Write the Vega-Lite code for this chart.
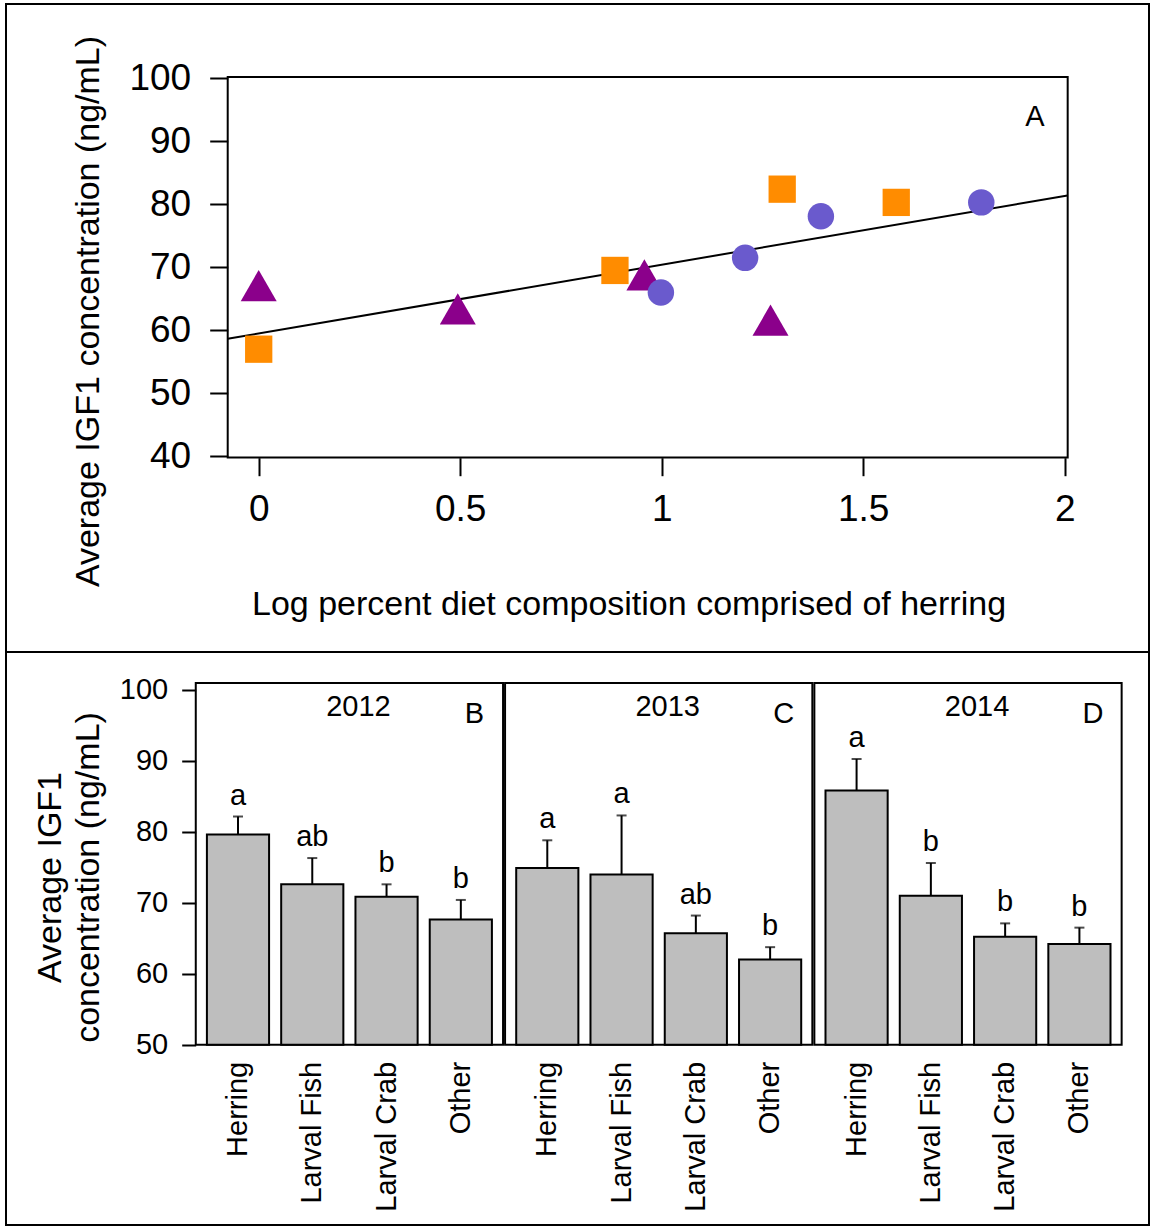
{
  "$schema": "https://vega.github.io/schema/vega-lite/v6.json",
  "padding": {"left": 5, "top": 3, "right": 3, "bottom": 2},
  "spacing": 0,
  "bounds": "flush",
  "config": {
    "font": "Liberation Sans",
    "view": {"stroke": "black", "strokeWidth": 2},
    "axis": {"labelColor": "black", "tickColor": "black", "titleColor": "black", "titleFontWeight": "normal", "grid": false, "domain": false, "tickWidth": 2, "labelFont": "Liberation Sans", "titleFont": "Liberation Sans"},
    "text": {"font": "Liberation Sans", "color": "black"}
  },
  "datasets": {
    "points": [
      {"herring": 0, "igf1": 67.1, "year": "2014"},
      {"herring": 0, "igf1": 57.0, "year": "2012"},
      {"herring": 0.494, "igf1": 63.4, "year": "2014"},
      {"herring": 0.884, "igf1": 69.5, "year": "2012"},
      {"herring": 0.957, "igf1": 68.8, "year": "2014"},
      {"herring": 0.998, "igf1": 66.0, "year": "2013"},
      {"herring": 1.207, "igf1": 71.5, "year": "2013"},
      {"herring": 1.27, "igf1": 61.6, "year": "2014"},
      {"herring": 1.299, "igf1": 82.4, "year": "2012"},
      {"herring": 1.395, "igf1": 78.1, "year": "2013"},
      {"herring": 1.582, "igf1": 80.3, "year": "2012"},
      {"herring": 1.793, "igf1": 80.3, "year": "2013"}
    ],
    "fit": [
      {"herring": -0.077, "igf1": 58.65},
      {"herring": 2.007, "igf1": 81.4}
    ],
    "bars": [
      {"year": "2012", "panel": "B", "diet": "Herring", "mean": 79.6, "upper": 82.15, "sig": "a"},
      {"year": "2012", "panel": "B", "diet": "Larval Fish", "mean": 72.6, "upper": 76.3, "sig": "ab"},
      {"year": "2012", "panel": "B", "diet": "Larval Crab", "mean": 70.85, "upper": 72.6, "sig": "b"},
      {"year": "2012", "panel": "B", "diet": "Other", "mean": 67.65, "upper": 70.4, "sig": "b"},
      {"year": "2013", "panel": "C", "diet": "Herring", "mean": 74.9, "upper": 78.8, "sig": "a"},
      {"year": "2013", "panel": "C", "diet": "Larval Fish", "mean": 74.0, "upper": 82.3, "sig": "a"},
      {"year": "2013", "panel": "C", "diet": "Larval Crab", "mean": 65.7, "upper": 68.2, "sig": "ab"},
      {"year": "2013", "panel": "C", "diet": "Other", "mean": 62.0, "upper": 63.75, "sig": "b"},
      {"year": "2014", "panel": "D", "diet": "Herring", "mean": 85.8, "upper": 90.25, "sig": "a"},
      {"year": "2014", "panel": "D", "diet": "Larval Fish", "mean": 71.0, "upper": 75.6, "sig": "b"},
      {"year": "2014", "panel": "D", "diet": "Larval Crab", "mean": 65.2, "upper": 67.1, "sig": "b"},
      {"year": "2014", "panel": "D", "diet": "Other", "mean": 64.2, "upper": 66.5, "sig": "b"}
    ]
  },
  "vconcat": [
    {
      "width": 1143,
      "height": 648,
      "layer": [
        {
          "data": {"values": [{}]},
          "mark": {"type": "rect", "fillOpacity": 0, "stroke": "black", "strokeWidth": 2},
          "encoding": {
            "x": {"datum": -0.0769, "type": "quantitative", "scale": {"domain": [-0.62705, 2.20918], "nice": false, "zero": false},
              "axis": {"orient": "bottom", "offset": -194.3, "values": [0, 0.5, 1, 1.5, 2], "format": "~g", "tickSize": 18, "labelPadding": 16, "labelFontSize": 37, "title": "Log percent diet composition comprised of herring", "titleFontSize": 34, "titleX": 622.5, "titleY": 157, "titleAlign": "center", "titleBaseline": "alphabetic", "titleAngle": 0}},
            "x2": {"datum": 2.0074},
            "y": {"datum": 39.8, "type": "quantitative", "scale": {"domain": [8.937, 111.79], "nice": false, "zero": false},
              "axis": {"orient": "left", "offset": -221.7, "values": [40, 50, 60, 70, 80, 90, 100], "format": "d", "tickSize": 18, "labelPadding": 19, "labelFontSize": 37, "title": "Average IGF1 concentration (ng/mL)", "titleFontSize": 34, "titleX": -129, "titleY": 307, "titleAlign": "center", "titleBaseline": "alphabetic", "titleAngle": -90}},
            "y2": {"datum": 100.2}
          }
        },
        {
          "data": {"name": "fit"},
          "mark": {"type": "line", "color": "black", "strokeWidth": 2},
          "encoding": {
            "x": {"field": "herring", "type": "quantitative", "scale": {"domain": [-0.62705, 2.20918], "nice": false, "zero": false},
              "axis": {"orient": "bottom", "offset": -194.3, "values": [0, 0.5, 1, 1.5, 2], "format": "~g", "tickSize": 18, "labelPadding": 16, "labelFontSize": 37, "title": "Log percent diet composition comprised of herring", "titleFontSize": 34, "titleX": 622.5, "titleY": 157, "titleAlign": "center", "titleBaseline": "alphabetic", "titleAngle": 0}},
            "y": {"field": "igf1", "type": "quantitative", "scale": {"domain": [8.937, 111.79], "nice": false, "zero": false},
              "axis": {"orient": "left", "offset": -221.7, "values": [40, 50, 60, 70, 80, 90, 100], "format": "d", "tickSize": 18, "labelPadding": 19, "labelFontSize": 37, "title": "Average IGF1 concentration (ng/mL)", "titleFontSize": 34, "titleX": -129, "titleY": 307, "titleAlign": "center", "titleBaseline": "alphabetic", "titleAngle": -90}}
          }
        },
        {
          "data": {"name": "points"},
          "mark": {"type": "point", "filled": true, "opacity": 1, "strokeWidth": 0},
          "encoding": {
            "x": {"field": "herring", "type": "quantitative", "scale": {"domain": [-0.62705, 2.20918], "nice": false, "zero": false},
              "axis": {"orient": "bottom", "offset": -194.3, "values": [0, 0.5, 1, 1.5, 2], "format": "~g", "tickSize": 18, "labelPadding": 16, "labelFontSize": 37, "title": "Log percent diet composition comprised of herring", "titleFontSize": 34, "titleX": 622.5, "titleY": 157, "titleAlign": "center", "titleBaseline": "alphabetic", "titleAngle": 0}},
            "y": {"field": "igf1", "type": "quantitative", "scale": {"domain": [8.937, 111.79], "nice": false, "zero": false},
              "axis": {"orient": "left", "offset": -221.7, "values": [40, 50, 60, 70, 80, 90, 100], "format": "d", "tickSize": 18, "labelPadding": 19, "labelFontSize": 37, "title": "Average IGF1 concentration (ng/mL)", "titleFontSize": 34, "titleX": -129, "titleY": 307, "titleAlign": "center", "titleBaseline": "alphabetic", "titleAngle": -90}},
            "shape": {"field": "year", "type": "nominal", "scale": {"domain": ["2012", "2013", "2014"], "range": ["square", "circle", "triangle-up"]}, "legend": null},
            "color": {"field": "year", "type": "nominal", "scale": {"domain": ["2012", "2013", "2014"], "range": ["#FF8C00", "#6A5ACD", "#8B008B"]}, "legend": null},
            "size": {"field": "year", "type": "nominal", "scale": {"type": "ordinal", "domain": ["2012", "2013", "2014"], "range": [745, 700, 1296]}, "legend": null}
          }
        },
        {
          "data": {"values": [{"label": "A"}]},
          "mark": {"type": "text", "fontSize": 29, "align": "center", "baseline": "alphabetic"},
          "encoding": {
            "x": {"datum": 1.926, "type": "quantitative", "scale": {"domain": [-0.62705, 2.20918], "nice": false, "zero": false},
              "axis": {"orient": "bottom", "offset": -194.3, "values": [0, 0.5, 1, 1.5, 2], "format": "~g", "tickSize": 18, "labelPadding": 16, "labelFontSize": 37, "title": "Log percent diet composition comprised of herring", "titleFontSize": 34, "titleX": 622.5, "titleY": 157, "titleAlign": "center", "titleBaseline": "alphabetic", "titleAngle": 0}},
            "y": {"datum": 92.4, "type": "quantitative", "scale": {"domain": [8.937, 111.79], "nice": false, "zero": false},
              "axis": {"orient": "left", "offset": -221.7, "values": [40, 50, 60, 70, 80, 90, 100], "format": "d", "tickSize": 18, "labelPadding": 19, "labelFontSize": 37, "title": "Average IGF1 concentration (ng/mL)", "titleFontSize": 34, "titleX": -129, "titleY": 307, "titleAlign": "center", "titleBaseline": "alphabetic", "titleAngle": -90}},
            "text": {"field": "label"}
          }
        }
      ]
    },
    {
      "width": 1143,
      "height": 573,
      "data": {"name": "bars"},
      "layer": [
        {
          "transform": [{"aggregate": [{"op": "count", "as": "n"}], "groupby": ["year"]}],
          "mark": {"type": "bar", "fillOpacity": 0, "stroke": "black", "strokeWidth": 2},
          "encoding": {
            "x": {"field": "year", "type": "nominal", "scale": {"type": "band", "domain": ["2012", "2013", "2014"], "paddingInner": 0.0065, "paddingOuter": 0.351, "align": 0.874, "round": false}, "axis": null},
            "y": {"datum": 100.96, "type": "quantitative", "scale": {"domain": [24.62, 105.32], "nice": false, "zero": false},
              "axis": {"orient": "left", "offset": -189.7, "values": [50, 60, 70, 80, 90, 100], "format": "d", "tickSize": 14, "labelPadding": 14, "labelFontSize": 29, "title": ["Average IGF1", "concentration (ng/mL)"], "titleFontSize": 34, "titleLineHeight": 38, "titleX": -135, "titleY": 225, "titleAlign": "center", "titleBaseline": "alphabetic", "titleAngle": -90}},
            "y2": {"datum": 50}
          }
        },
        {
          "mark": {"type": "bar", "fill": "#BEBEBE", "stroke": "black", "strokeWidth": 2},
          "encoding": {
            "x": {"field": "year", "type": "nominal", "scale": {"type": "band", "domain": ["2012", "2013", "2014"], "paddingInner": 0.0065, "paddingOuter": 0.351, "align": 0.874, "round": false}, "axis": null},
            "xOffset": {"field": "diet", "type": "nominal", "scale": {"domain": ["Herring", "Larval Fish", "Larval Crab", "Other"], "paddingInner": 0.163, "paddingOuter": 0.15}},
            "y": {"field": "mean", "type": "quantitative", "scale": {"domain": [24.62, 105.32], "nice": false, "zero": false},
              "axis": {"orient": "left", "offset": -189.7, "values": [50, 60, 70, 80, 90, 100], "format": "d", "tickSize": 14, "labelPadding": 14, "labelFontSize": 29, "title": ["Average IGF1", "concentration (ng/mL)"], "titleFontSize": 34, "titleLineHeight": 38, "titleX": -135, "titleY": 225, "titleAlign": "center", "titleBaseline": "alphabetic", "titleAngle": -90}},
            "y2": {"datum": 50}
          }
        },
        {
          "mark": {"type": "rule", "strokeWidth": 2, "color": "black"},
          "encoding": {
            "x": {"field": "year", "type": "nominal", "scale": {"type": "band", "domain": ["2012", "2013", "2014"], "paddingInner": 0.0065, "paddingOuter": 0.351, "align": 0.874, "round": false}, "axis": null},
            "xOffset": {"field": "diet", "type": "nominal", "scale": {"domain": ["Herring", "Larval Fish", "Larval Crab", "Other"], "paddingInner": 0.163, "paddingOuter": 0.15}},
            "y": {"field": "mean", "type": "quantitative", "scale": {"domain": [24.62, 105.32], "nice": false, "zero": false},
              "axis": {"orient": "left", "offset": -189.7, "values": [50, 60, 70, 80, 90, 100], "format": "d", "tickSize": 14, "labelPadding": 14, "labelFontSize": 29, "title": ["Average IGF1", "concentration (ng/mL)"], "titleFontSize": 34, "titleLineHeight": 38, "titleX": -135, "titleY": 225, "titleAlign": "center", "titleBaseline": "alphabetic", "titleAngle": -90}},
            "y2": {"field": "upper"}
          }
        },
        {
          "mark": {"type": "tick", "thickness": 2, "size": 10, "color": "black", "orient": "horizontal"},
          "encoding": {
            "x": {"field": "year", "type": "nominal", "scale": {"type": "band", "domain": ["2012", "2013", "2014"], "paddingInner": 0.0065, "paddingOuter": 0.351, "align": 0.874, "round": false}, "axis": null},
            "xOffset": {"field": "diet", "type": "nominal", "scale": {"domain": ["Herring", "Larval Fish", "Larval Crab", "Other"], "paddingInner": 0.163, "paddingOuter": 0.15}},
            "y": {"field": "upper", "type": "quantitative", "scale": {"domain": [24.62, 105.32], "nice": false, "zero": false},
              "axis": {"orient": "left", "offset": -189.7, "values": [50, 60, 70, 80, 90, 100], "format": "d", "tickSize": 14, "labelPadding": 14, "labelFontSize": 29, "title": ["Average IGF1", "concentration (ng/mL)"], "titleFontSize": 34, "titleLineHeight": 38, "titleX": -135, "titleY": 225, "titleAlign": "center", "titleBaseline": "alphabetic", "titleAngle": -90}}
          }
        },
        {
          "mark": {"type": "text", "fontSize": 29, "align": "center", "baseline": "alphabetic", "dy": -12},
          "encoding": {
            "x": {"field": "year", "type": "nominal", "scale": {"type": "band", "domain": ["2012", "2013", "2014"], "paddingInner": 0.0065, "paddingOuter": 0.351, "align": 0.874, "round": false}, "axis": null},
            "xOffset": {"field": "diet", "type": "nominal", "scale": {"domain": ["Herring", "Larval Fish", "Larval Crab", "Other"], "paddingInner": 0.163, "paddingOuter": 0.15}},
            "y": {"field": "upper", "type": "quantitative", "scale": {"domain": [24.62, 105.32], "nice": false, "zero": false},
              "axis": {"orient": "left", "offset": -189.7, "values": [50, 60, 70, 80, 90, 100], "format": "d", "tickSize": 14, "labelPadding": 14, "labelFontSize": 29, "title": ["Average IGF1", "concentration (ng/mL)"], "titleFontSize": 34, "titleLineHeight": 38, "titleX": -135, "titleY": 225, "titleAlign": "center", "titleBaseline": "alphabetic", "titleAngle": -90}},
            "text": {"field": "sig"}
          }
        },
        {
          "mark": {"type": "text", "fontSize": 29, "angle": 270, "align": "right", "baseline": "middle", "dx": -17},
          "encoding": {
            "x": {"field": "year", "type": "nominal", "scale": {"type": "band", "domain": ["2012", "2013", "2014"], "paddingInner": 0.0065, "paddingOuter": 0.351, "align": 0.874, "round": false}, "axis": null},
            "xOffset": {"field": "diet", "type": "nominal", "scale": {"domain": ["Herring", "Larval Fish", "Larval Crab", "Other"], "paddingInner": 0.163, "paddingOuter": 0.15}},
            "y": {"datum": 50, "type": "quantitative", "scale": {"domain": [24.62, 105.32], "nice": false, "zero": false},
              "axis": {"orient": "left", "offset": -189.7, "values": [50, 60, 70, 80, 90, 100], "format": "d", "tickSize": 14, "labelPadding": 14, "labelFontSize": 29, "title": ["Average IGF1", "concentration (ng/mL)"], "titleFontSize": 34, "titleLineHeight": 38, "titleX": -135, "titleY": 225, "titleAlign": "center", "titleBaseline": "alphabetic", "titleAngle": -90}},
            "text": {"field": "diet"}
          }
        },
        {
          "transform": [{"aggregate": [{"op": "count", "as": "n"}], "groupby": ["year", "panel"]}],
          "mark": {"type": "text", "fontSize": 29, "align": "center", "baseline": "alphabetic", "dx": 9},
          "encoding": {
            "x": {"field": "year", "type": "nominal", "scale": {"type": "band", "domain": ["2012", "2013", "2014"], "paddingInner": 0.0065, "paddingOuter": 0.351, "align": 0.874, "round": false}, "axis": null},
            "y": {"datum": 96.25, "type": "quantitative", "scale": {"domain": [24.62, 105.32], "nice": false, "zero": false},
              "axis": {"orient": "left", "offset": -189.7, "values": [50, 60, 70, 80, 90, 100], "format": "d", "tickSize": 14, "labelPadding": 14, "labelFontSize": 29, "title": ["Average IGF1", "concentration (ng/mL)"], "titleFontSize": 34, "titleLineHeight": 38, "titleX": -135, "titleY": 225, "titleAlign": "center", "titleBaseline": "alphabetic", "titleAngle": -90}},
            "text": {"field": "year"}
          }
        },
        {
          "transform": [{"aggregate": [{"op": "count", "as": "n"}], "groupby": ["year", "panel"]}],
          "mark": {"type": "text", "fontSize": 29, "align": "center", "baseline": "alphabetic", "dx": 125},
          "encoding": {
            "x": {"field": "year", "type": "nominal", "scale": {"type": "band", "domain": ["2012", "2013", "2014"], "paddingInner": 0.0065, "paddingOuter": 0.351, "align": 0.874, "round": false}, "axis": null},
            "y": {"datum": 95.39, "type": "quantitative", "scale": {"domain": [24.62, 105.32], "nice": false, "zero": false},
              "axis": {"orient": "left", "offset": -189.7, "values": [50, 60, 70, 80, 90, 100], "format": "d", "tickSize": 14, "labelPadding": 14, "labelFontSize": 29, "title": ["Average IGF1", "concentration (ng/mL)"], "titleFontSize": 34, "titleLineHeight": 38, "titleX": -135, "titleY": 225, "titleAlign": "center", "titleBaseline": "alphabetic", "titleAngle": -90}},
            "text": {"field": "panel"}
          }
        }
      ]
    }
  ]
}
